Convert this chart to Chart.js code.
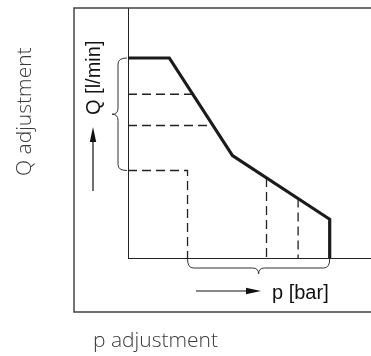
<!DOCTYPE html>
<html>
<head>
<meta charset="utf-8">
<script src="https://cdn.jsdelivr.net/npm/chart.js@4.4.1/dist/chart.umd.min.js"></script>
<style>
  body { margin: 0; background: #fff; }
  #wrap { width: 371px; height: 356px; }
</style>
</head>
<body>
<div id="wrap"><canvas id="qp"></canvas></div>
<script>
// characteristic curve: flow Q over pressure p
const curveP = [0, 1.7, 4.3, 8.3, 8.3];
const curveQ = [8, 8, 4.1, 1.55, 0];

// horizontal dashed levels on the Q side and where they hit the curve
const levelQ = [6.55, 5.3];
const levelP = [2.67, 3.5];

// lowest Q setting, dropped down to the p axis
const cornerP = 2.45;
const cornerQ = 3.5;

// vertical dashed settings on the p side
const stepP = [5.7, 7.0];
const stepQ = [3.2, 2.38];

// adjustment ranges marked with braces
const qRange = [cornerQ, 8];
const pRange = [cornerP, 8.3];

const xMax = 10, yMax = 10;

function pts(xs, ys) { return xs.map((x, i) => ({ x: x, y: ys[i] })); }

const dash = { borderColor: '#222', borderWidth: 1.3, borderDash: [9, 5], pointRadius: 0, fill: false, tension: 0 };
const datasets = [
  { data: pts(curveP, curveQ), borderColor: '#1b1b1b', borderWidth: 3.2, pointRadius: 0, fill: false, tension: 0, borderJoinStyle: 'miter' }
];
levelQ.forEach((q, i) => datasets.push(Object.assign({ data: [{ x: 0, y: q }, { x: levelP[i], y: q }] }, dash)));
datasets.push(Object.assign({ data: [{ x: 0, y: cornerQ }, { x: cornerP, y: cornerQ }, { x: cornerP, y: 0 }] }, dash));
stepP.forEach((p, i) => datasets.push(Object.assign({ data: [{ x: p, y: stepQ[i] }, { x: p, y: 0 }] }, dash)));

function brace(ctx, horizontal, a, b, base, depth) {
  // curly brace between a and b, sitting on the axis at "base"
  const r = 6, mid = (a + b) / 2;
  const body = base + depth * 0.6, tip = base + depth;
  ctx.beginPath();
  if (horizontal) {
    ctx.moveTo(a, base);
    ctx.quadraticCurveTo(a, body, a + r, body);
    ctx.lineTo(mid - r, body);
    ctx.quadraticCurveTo(mid, body, mid, tip);
    ctx.quadraticCurveTo(mid, body, mid + r, body);
    ctx.lineTo(b - r, body);
    ctx.quadraticCurveTo(b, body, b, base);
  } else {
    ctx.moveTo(base, a);
    ctx.quadraticCurveTo(body, a, body, a + r);
    ctx.lineTo(body, mid - r);
    ctx.quadraticCurveTo(body, mid, tip, mid);
    ctx.quadraticCurveTo(body, mid, body, mid + r);
    ctx.lineTo(body, b - r);
    ctx.quadraticCurveTo(body, b, base, b);
  }
  ctx.stroke();
}

function arrow(ctx, x0, y0, x1, y1) {
  const ang = Math.atan2(y1 - y0, x1 - x0);
  const len = 15, half = 3.2;
  ctx.beginPath();
  ctx.moveTo(x0, y0);
  ctx.lineTo(x1 - Math.cos(ang) * len, y1 - Math.sin(ang) * len);
  ctx.stroke();
  ctx.save();
  ctx.translate(x1, y1);
  ctx.rotate(ang);
  ctx.beginPath();
  ctx.moveTo(0, 0);
  ctx.lineTo(-len, -half);
  ctx.lineTo(-len, half);
  ctx.closePath();
  ctx.fill();
  ctx.restore();
}

const decor = {
  id: 'decor',
  afterDraw(chart) {
    const ctx = chart.ctx, xs = chart.scales.x, ys = chart.scales.y;
    const left = xs.getPixelForValue(0), bottom = ys.getPixelForValue(0);
    ctx.save();

    // outer frame, open to the right
    ctx.strokeStyle = '#444';
    ctx.lineWidth = 1.5;
    ctx.beginPath();
    ctx.moveTo(371, 8);
    ctx.lineTo(74, 8);
    ctx.lineTo(74, 312);
    ctx.lineTo(371, 312);
    ctx.stroke();

    // adjustment braces
    ctx.strokeStyle = '#333';
    ctx.lineWidth = 1;
    brace(ctx, false, ys.getPixelForValue(qRange[1]), ys.getPixelForValue(qRange[0]), left - 1, -15);
    brace(ctx, true, xs.getPixelForValue(pRange[0]), xs.getPixelForValue(pRange[1]), bottom + 1, 15);

    // axis arrows and labels
    ctx.strokeStyle = '#111';
    ctx.fillStyle = '#111';
    ctx.lineWidth = 1.2;
    arrow(ctx, 93, 191, 93, 127);
    arrow(ctx, 196, 291, 261, 291);

    ctx.font = '20px "Liberation Sans", Arial, sans-serif';
    ctx.textBaseline = 'alphabetic';
    ctx.textAlign = 'left';
    ctx.fillText('p [bar]', 272, 299);
    ctx.save();
    ctx.translate(100, 115);
    ctx.rotate(-Math.PI / 2);
    ctx.fillText('Q [l/min]', 0, 0);
    ctx.restore();

    ctx.fillStyle = '#3a3a3a';
    ctx.font = '300 21px "Open Sans", "Noto Sans", sans-serif';
    ctx.fillText('p adjustment', 93, 347);
    ctx.save();
    ctx.translate(31, 176);
    ctx.rotate(-Math.PI / 2);
    ctx.fillText('Q adjustment', 0, 0);
    ctx.restore();

    ctx.restore();
  }
};

new Chart(document.getElementById('qp'), {
  type: 'line',
  data: { datasets: datasets },
  options: {
    responsive: true,
    maintainAspectRatio: false,
    animation: false,
    layout: { padding: { left: 128, top: 8, right: 0, bottom: 98 } },
    plugins: { legend: { display: false }, tooltip: { enabled: false } },
    scales: {
      x: {
        type: 'linear', min: 0, max: xMax,
        ticks: { display: false }, grid: { display: false, drawTicks: false },
        border: { display: true, color: '#222', width: 1 },
        afterFit(s) { s.height = 0; }
      },
      y: {
        type: 'linear', min: 0, max: yMax,
        ticks: { display: false }, grid: { display: false, drawTicks: false },
        border: { display: true, color: '#222', width: 1 },
        afterFit(s) { s.width = 0; }
      }
    }
  },
  plugins: [decor]
});
</script>
</body>
</html>
